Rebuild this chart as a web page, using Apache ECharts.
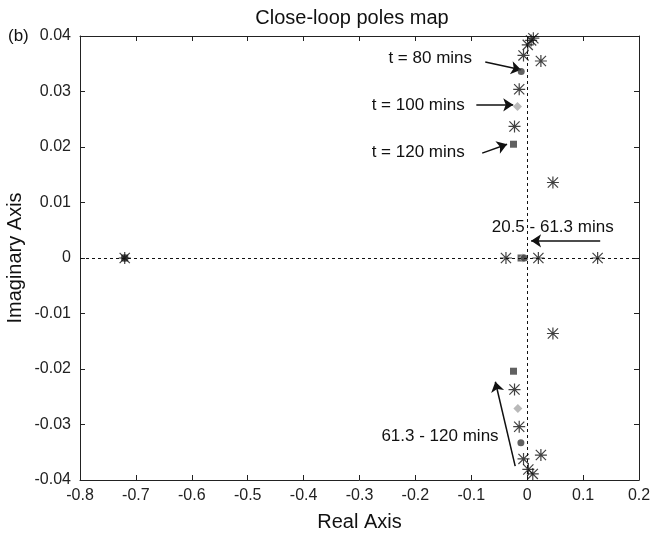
<!DOCTYPE html>
<html><head><meta charset="utf-8">
<script src="https://cdn.jsdelivr.net/npm/echarts@6/dist/echarts.min.js"></script>
<style>html,body{margin:0;padding:0;background:#fff}#c{width:653px;height:539px}</style>
</head><body><div id="c"></div>
<script>
// ---- data ----
const starPoints = [[0.001,0.0384],[0.007,0.0392],[0.011,0.0396],[-0.0066,0.0365],[0.0245,0.0355],
  [-0.0143,0.0304],[-0.0227,0.0237],[0.046,0.0136],[-0.038,0],[0.020,0],[0.126,0],[-0.72,0],
  [0.046,-0.0136],[-0.0227,-0.0237],[-0.0143,-0.0304],[-0.0066,-0.0362],[0.0245,-0.0355],
  [0.002,-0.0381],[0.010,-0.0389]];
const circlePoints = [[-0.0107,0.0336],[-0.0113,-0.0333],[-0.005,0],[-0.72,0]];
const diamondPoints = [[-0.0173,0.0273],[-0.0167,-0.0271],[-0.008,0],[-0.72,0]];
const squarePoints = [[-0.0245,0.0205],[-0.0245,-0.0204],[-0.011,0],[-0.72,0]];
const annotationTexts = ['t = 80 mins','t = 100 mins','t = 120 mins','20.5 - 61.3 mins','61.3 - 120 mins'];
const annotationPos = [[-0.1735,0.0360],[-0.195,0.0276],[-0.195,0.0191],[0.0456,0.0056],[-0.156,-0.0321]];
const arrowCoords = [
  [[-0.075,0.0353],[-0.011,0.0339]],
  [[-0.091,0.0276],[-0.025,0.0276]],
  [[-0.0805,0.0189],[-0.036,0.0205]],
  [[0.1306,0.0031],[0.007,0.0031]],
  [[-0.0215,-0.0375],[-0.057,-0.0223]]
];
const xTicks = {min:-0.8,max:0.2,interval:0.1};
const yTicks = {min:-0.04,max:0.04,interval:0.01};
const titleText = 'Close-loop poles map';
const panelText = '(b)';

const FONT = 'Liberation Sans';
const starPath = 'path://M0 45L100 45L100 55L0 55Z M45 0L55 0L55 100L45 100Z M11 4L96 89L89 96L4 11Z M89 4L96 11L11 96L4 89Z';

const chart = echarts.init(document.getElementById('c'), null, {renderer:'canvas'});
const axisCommon = {
  axisLine:{show:true,onZero:false,lineStyle:{color:'#222',width:1}},
  axisTick:{show:true,inside:true,length:5,lineStyle:{color:'#222'}},
  splitLine:{show:false}
};
chart.setOption({
  animation:false,
  backgroundColor:'#fff',
  grid:{left:80,right:14,top:36,bottom:59,containLabel:false,outerBoundsMode:'none'},
  xAxis:[
    Object.assign({type:'value',position:'bottom',min:xTicks.min,max:xTicks.max,interval:xTicks.interval,
      name:'Real Axis',nameLocation:'middle',nameGap:32,nameMoveOverlap:false,
      nameTextStyle:{fontFamily:FONT,fontSize:20,color:'#111'},
      axisLabel:{fontFamily:FONT,fontSize:16,color:'#222',margin:8,
        formatter:v=>{const r=Math.round(v*10)/10;return r===0?'0':String(r);}}},axisCommon),
    Object.assign({type:'value',position:'top',min:xTicks.min,max:xTicks.max,interval:xTicks.interval,
      axisLabel:{show:false}},axisCommon)
  ],
  yAxis:[
    Object.assign({type:'value',position:'left',min:yTicks.min,max:yTicks.max,interval:yTicks.interval,
      name:'Imaginary Axis',nameLocation:'middle',nameGap:55,nameMoveOverlap:false,
      nameTextStyle:{fontFamily:FONT,fontSize:20,color:'#111'},
      axisLabel:{fontFamily:FONT,fontSize:16,color:'#222',margin:9,
        formatter:v=>{const r=Math.round(v*100)/100;return r===0?'0':String(r);}}},axisCommon),
    Object.assign({type:'value',position:'right',min:yTicks.min,max:yTicks.max,interval:yTicks.interval,
      axisLabel:{show:false}},axisCommon)
  ],
  series:[
    {type:'scatter',name:'guides',data:[],silent:true,
      markLine:{silent:true,symbol:['none','none'],label:{show:false},
        lineStyle:{color:'#111',type:[3,3],width:1},
        data:[{xAxis:0},{yAxis:0}]}},
    {type:'lines',coordinateSystem:'cartesian2d',symbol:['none','arrow'],symbolSize:[0,10],
      lineStyle:{color:'#111',width:1.5,opacity:1},
      data:arrowCoords.map(c=>({coords:c}))},
    {type:'scatter',symbol:'rect',symbolSize:7,itemStyle:{color:'#3a3a3a'},data:squarePoints,z:3},
    {type:'scatter',symbol:'diamond',symbolSize:9,itemStyle:{color:'#a8a8a8'},data:diamondPoints,z:3},
    {type:'scatter',symbol:'circle',symbolSize:7,itemStyle:{color:'#3a3a3a'},data:circlePoints,z:3},
    {type:'scatter',symbol:starPath,symbolSize:12,itemStyle:{color:'#111'},data:starPoints,z:4}
  ]
});
const texts = [
  {type:'text',x:352,y:18,style:{text:titleText,font:'20px "'+FONT+'"',fill:'#111',textAlign:'center',textVerticalAlign:'middle'}},
  {type:'text',x:8,y:36,style:{text:panelText,font:'17px "'+FONT+'"',fill:'#111',textAlign:'left',textVerticalAlign:'middle'}}
];
annotationTexts.forEach((t,i)=>{
  const p = chart.convertToPixel({xAxisIndex:0,yAxisIndex:0}, annotationPos[i]);
  texts.push({type:'text',x:p[0],y:p[1],z:10,style:{text:t,font:'17px "'+FONT+'"',fill:'#111',textAlign:'center',textVerticalAlign:'middle'}});
});
chart.setOption({graphic:texts});
</script></body></html>
